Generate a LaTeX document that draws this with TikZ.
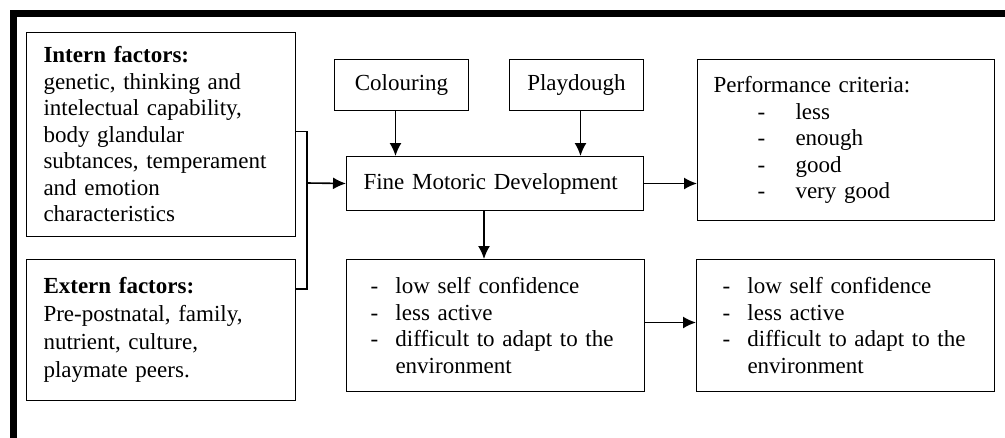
\documentclass[tikz,border=0pt]{standalone}
\usepackage{fontspec}
\setmainfont{Liberation Serif}
\usetikzlibrary{arrows.meta}

\tikzset{
  box/.style={draw, line width=1pt, anchor=north west, align=left, inner ysep=0pt,
    font=\fontsize{23}{26.5}\selectfont},
  arr/.style={-{Latex[length=13pt,width=12pt]}, line width=1.6pt},
}
\newcommand{\critline}[1]{\hspace*{44pt}\makebox[38pt][l]{-}#1}
\newcommand{\effline}[1]{\makebox[25pt][l]{-}#1}

\begin{document}
\begin{tikzpicture}[x=1pt,y=-1pt]
   \useasboundingbox (0,0) rectangle (1005,437);
   % frame (only top and left edges show)
   \draw[line width=7pt] (13.5,440) -- (13.5,13.5) -- (1010,13.5);

   % factors
   \node[box, inner xsep=17pt, text width=235pt, minimum height=204pt] (intern) at (26,32)
      {\textbf{Intern factors:}\\genetic, thinking and\\intelectual capability,\\body glandular\\subtances, temperament\\and emotion\\characteristics};
   \node[box, inner xsep=17pt, text width=235pt, minimum height=141pt,
      font=\fontsize{23}{28}\selectfont] (extern) at (26,259)
      {\textbf{Extern factors:}\\Pre-postnatal, family,\\nutrient, culture,\\playmate peers.};

   % activities
   \node[box, align=center, inner sep=0pt, minimum width=134pt, minimum height=51pt] (colour) at (334,59) {Colouring};
   \node[box, align=center, inner sep=0pt, minimum width=134pt, minimum height=51pt] (dough) at (509,59) {Playdough};
   \node[box, inner xsep=17pt, text width=263pt, minimum height=54pt] (fmd) at (346,156) {Fine Motoric Development};

   % results
   \node[box, inner xsep=16pt, text width=265pt, minimum height=161pt] (perf) at (697,59)
      {Performance criteria:\\\critline{less}\\\critline{enough}\\\critline{good}\\\critline{very good}};
   \node[box, inner xsep=24pt, text width=250pt, minimum height=132pt] (eff1) at (346,259)
      {\effline{low self confidence}\\\effline{less active}\\\effline{difficult to adapt to the}\\\hspace*{25pt}environment};
   \node[box, inner xsep=26pt, text width=246pt, minimum height=132pt] (eff2) at (696,259)
      {\effline{low self confidence}\\\effline{less active}\\\effline{difficult to adapt to the}\\\hspace*{25pt}environment};

   % connectors
   \coordinate (join) at (307,183);
   \draw[line width=1.6pt] ([yshift=3pt]intern.east) -| (join);
   \draw[line width=1.6pt] ([yshift=41pt]extern.east) -| (join);
   \draw[arr] (join) -- (fmd.west);
   \draw[arr] ([xshift=-6pt]colour.south) -- ([xshift=-6pt]colour.south |- fmd.north);
   \draw[arr] ([xshift=4pt]dough.south) -- ([xshift=4pt]dough.south |- fmd.north);
   \draw[arr] (fmd.east) -- (fmd.east -| perf.west);
   \draw[arr] ([xshift=-11pt]fmd.south) -- ([xshift=-11pt]fmd.south |- eff1.north);
   \draw[arr] ([yshift=3pt]eff1.east) -- ([yshift=3pt]eff2.west);
\end{tikzpicture}
\end{document}
